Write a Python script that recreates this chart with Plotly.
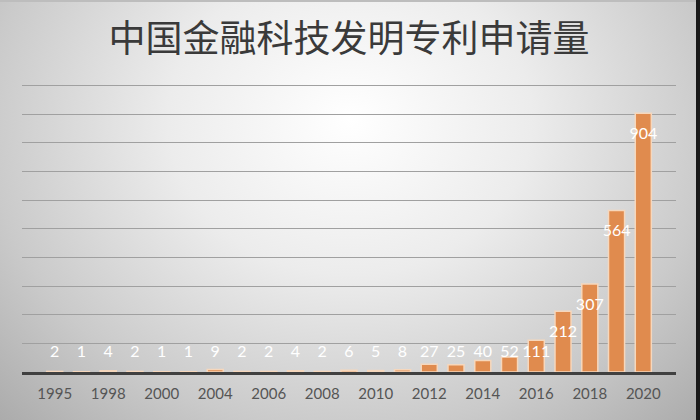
import base64
import plotly.graph_objects as go

years = ["1995", "1997", "1998", "1999", "2000", "2002", "2004", "2005", "2006", "2007",
         "2008", "2009", "2010", "2011", "2012", "2013", "2014", "2015", "2016", "2017",
         "2018", "2019", "2020"]
counts = [2, 1, 4, 2, 1, 1, 9, 2, 2, 4, 2, 6, 5, 8, 27, 25, 40, 52, 111, 212, 307, 564, 904]
tick_years = years[::2]
title_text = "中国金融科技发明专利申请量"

W, H = 700, 420
ML, MR, MT, MB = 22, 24, 80, 48
PW, PH = W - ML - MR, H - MT - MB
Y_MAX = 1020

svg = f'''<svg xmlns="http://www.w3.org/2000/svg" width="{W}" height="{H}">
<defs><radialGradient id="g" cx="350" cy="120" r="520" gradientUnits="userSpaceOnUse"
 gradientTransform="translate(350 120) scale(1 0.85) translate(-350 -120)">
<stop offset="0" stop-color="#ffffff"/><stop offset="0.35" stop-color="#ececec"/>
<stop offset="0.7" stop-color="#cacaca"/><stop offset="1" stop-color="#a6a6a6"/>
</radialGradient></defs>
<rect width="{W}" height="{H}" fill="url(#g)"/>
<rect x="0" y="0" width="{W}" height="2" fill="#bdbdbd"/>
<rect x="{W-4}" y="0" width="4" height="{H}" fill="#1a1a1a"/>
</svg>'''
bg_src = "data:image/svg+xml;base64," + base64.b64encode(svg.encode()).decode()

fig = go.Figure()
fig.add_trace(go.Bar(
    x=years, y=counts,
    marker=dict(color="#E08B4E", line=dict(color="#F6D7BC", width=1.5)),
    hoverinfo="skip",
))
label_y = [max(v - 75, 68) for v in counts]
fig.add_trace(go.Scatter(
    x=years, y=label_y, mode="text", text=[str(v) for v in counts],
    textposition="middle center",
    textfont=dict(family="Lato, Open Sans, sans-serif", size=16, color="#ffffff"),
    hoverinfo="skip", showlegend=False,
))

fig.update_layout(
    width=W, height=H,
    margin=dict(l=ML, r=MR, t=MT, b=MB),
    paper_bgcolor="#d0d0d0",
    plot_bgcolor="rgba(0,0,0,0)",
    showlegend=False,
    bargap=0.4,
    title=dict(text=title_text, x=0.5, xref="paper", xanchor="center",
               y=1 - 39 / H, yanchor="middle",
               font=dict(family="Noto Sans CJK SC", size=37, color="#3a3a3a")),
    images=[dict(source=bg_src, xref="paper", yref="paper",
                 x=-ML / PW, y=1 + MT / PH, sizex=W / PW, sizey=H / PH,
                 xanchor="left", yanchor="top", sizing="stretch", layer="below")],
    xaxis=dict(type="category", tickmode="array", tickvals=tick_years, ticktext=tick_years,
               showgrid=False, showline=True, linecolor="#404040", linewidth=3,
               ticks="", ticklabelstandoff=6,
               tickfont=dict(family="Lato, Open Sans, sans-serif", size=15, color="#555555"),
               fixedrange=True),
    yaxis=dict(range=[0, Y_MAX], tickmode="array", tickvals=list(range(100, 1001, 100)),
               showticklabels=False, showgrid=True,
               gridcolor="#a0a0a0", gridwidth=1.3, zeroline=False, showline=False, ticks="",
               fixedrange=True),
)

fig.write_html("out.html", config={"displayModeBar": False},
               post_script="document.body.style.margin='0';document.body.style.overflow='hidden';")
